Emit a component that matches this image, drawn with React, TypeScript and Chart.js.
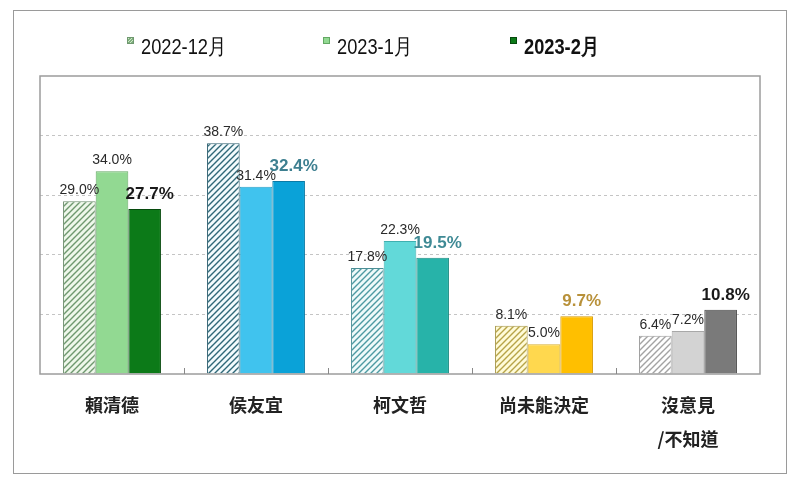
import React, { useEffect, useRef } from "react";
import { Chart, registerables } from "chart.js";

Chart.register(...registerables);

const categories: string[][] = [["賴清德"], ["侯友宜"], ["柯文哲"], ["尚未能決定"], ["沒意見", "/不知道"]];
const seriesLabels = ["2022-12月", "2023-1月", "2023-2月"];
const dec2022 = [29.0, 38.7, 17.8, 8.1, 6.4];
const jan2023 = [34.0, 31.4, 22.3, 5.0, 7.2];
const feb2023 = [27.7, 32.4, 19.5, 9.7, 10.8];
const yMin = 0;
const yMax = 50;
const yStep = 10;

const hatchBg = ["#eef7ea", "#f3fbfd", "#effafa", "#fffbd8", "#ffffff"];
const hatchLine = ["#6f986f", "#2f6878", "#4d9aa2", "#b7a448", "#a3a3a3"];
const decBorder = ["#6f8f6f", "#2f6070", "#4d8f96", "#a8984a", "#9a9a9a"];
const janColors = ["#92d992", "#40c3ee", "#62d9d9", "#ffd84e", "#d3d3d3"];
const janBorder = ["#63a863", "#2aa0c8", "#3fb0b0", "#d8b030", "#a8a8a8"];
const febColors = ["#0c7a18", "#0aa2d8", "#27b3a9", "#ffbf00", "#7a7a7a"];
const febBorder = ["#064a0d", "#0a7aa6", "#1a8a82", "#d89a00", "#4a4a4a"];
const febLabelColors = ["#1a1a1a", "#3d7f90", "#3f8a95", "#b8913a", "#1a1a1a"];

function makeHatch(bg: string, line: string): CanvasPattern | string {
  const c = document.createElement("canvas");
  const s = 6;
  c.width = s;
  c.height = s;
  const g = c.getContext("2d");
  if (!g) return bg;
  g.fillStyle = bg;
  g.fillRect(0, 0, s, s);
  g.strokeStyle = line;
  g.lineWidth = 1.4;
  g.beginPath();
  g.moveTo(0, s);
  g.lineTo(s, 0);
  g.moveTo(-1, 1);
  g.lineTo(1, -1);
  g.moveTo(s - 1, s + 1);
  g.lineTo(s + 1, s - 1);
  g.stroke();
  const p = g.createPattern(c, "repeat");
  return p || bg;
}

const framePlugin = {
  id: "frameAndTicks",
  afterDraw(chart: any) {
    const { ctx, chartArea, scales } = chart;
    const xs = scales.x;
    ctx.save();
    ctx.strokeStyle = "#9c9c9c";
    ctx.lineWidth = 1.5;
    ctx.strokeRect(chartArea.left, chartArea.top, chartArea.right - chartArea.left, chartArea.bottom - chartArea.top);
    ctx.strokeStyle = "#888";
    ctx.lineWidth = 1;
    for (let i = 1; i < categories.length; i++) {
      const x = Math.round((xs.getPixelForValue(i - 1) + xs.getPixelForValue(i)) / 2) + 0.5;
      ctx.beginPath();
      ctx.moveTo(x, chartArea.bottom - 6);
      ctx.lineTo(x, chartArea.bottom);
      ctx.stroke();
    }
    ctx.restore();
  },
};

const labelPlugin = {
  id: "valueLabels",
  afterDatasetsDraw(chart: any) {
    const { ctx } = chart;
    ctx.save();
    ctx.textAlign = "center";
    ctx.textBaseline = "alphabetic";
    chart.data.datasets.forEach((ds: any, di: number) => {
      const meta = chart.getDatasetMeta(di);
      meta.data.forEach((el: any, i: number) => {
        const v = ds.data[i] as number;
        const bold = di === 2;
        ctx.font = bold ? "bold 17px 'Liberation Sans', Arial, sans-serif" : "14px 'Liberation Sans', Arial, sans-serif";
        ctx.fillStyle = bold ? febLabelColors[i] : "#2a2a2a";
        ctx.fillText(v.toFixed(1) + "%", el.x + (bold ? 5 : 0), el.y - (bold ? 10 : 7));
      });
    });
    ctx.restore();
  },
};

function ChartView() {
  const ref = useRef<HTMLCanvasElement | null>(null);
  useEffect(() => {
    if (!ref.current) return;
    const decFill = hatchBg.map((b, i) => makeHatch(b, hatchLine[i]));
    const chart = new Chart(ref.current, {
      type: "bar",
      data: {
        labels: categories,
        datasets: [
          { label: seriesLabels[0], data: dec2022, backgroundColor: decFill as any, borderColor: decBorder, borderWidth: 1 },
          { label: seriesLabels[1], data: jan2023, backgroundColor: janColors, borderColor: janBorder, borderWidth: 1 },
          { label: seriesLabels[2], data: feb2023, backgroundColor: febColors, borderColor: febBorder, borderWidth: 1 },
        ],
      },
      options: {
        responsive: false,
        animation: false,
        events: [],
        layout: { padding: { left: 40, right: 43, top: 76, bottom: 0 } },
        plugins: { legend: { display: false }, tooltip: { enabled: false } },
        datasets: { bar: { categoryPercentage: 0.68, barPercentage: 1 } },
        scales: {
          x: {
            grid: { display: false, drawTicks: false },
            border: { display: false },
            ticks: {
              autoSkip: false,
              maxRotation: 0,
              padding: 14,
              color: "#222",
              font: { family: "'Noto Sans CJK TC', 'Noto Sans CJK SC', sans-serif", size: 18, weight: "bold", lineHeight: 1.9 },
            },
            afterFit: (scale: any) => {
              scale.height = 121;
            },
          },
          y: {
            min: yMin,
            max: yMax,
            ticks: { display: false, stepSize: yStep },
            grid: {
              drawTicks: false,
              lineWidth: 1,
              color: (c: any) => (c.tick && (c.tick.value === yMin || c.tick.value === yMax) ? "rgba(0,0,0,0)" : "#c4c4c4"),
            },
            border: { display: false, dash: [3, 3] },
          },
        },
      },
      plugins: [framePlugin, labelPlugin],
    });
    return () => chart.destroy();
  }, []);
  return <canvas ref={ref} width={803} height={495} style={{ position: "absolute", left: 0, top: 0, width: 803, height: 495 }} />;
}

const legendFont = "'Liberation Sans', Arial, sans-serif";
const legendLefts = [127, 323, 510];

function LegendBox({ i }: { i: number }) {
  const styles: React.CSSProperties[] = [
    {
      background: "repeating-linear-gradient(135deg, #cde9c4 0px, #cde9c4 1.2px, #7fae7f 1.2px, #7fae7f 2.2px)",
      border: "1px solid #6f986f",
    },
    { background: janColors[0], border: "1px solid " + janBorder[0] },
    { background: febColors[0], border: "1px solid " + febBorder[0] },
  ];
  return <div style={{ position: "absolute", left: 0, top: 2, width: 7, height: 7, boxSizing: "border-box", ...styles[i] }} />;
}

export default function App() {
  return (
    <div style={{ position: "absolute", left: 0, top: 0, width: 803, height: 495, background: "#fff", overflow: "hidden" }}>
      <div
        style={{
          position: "absolute",
          left: 13,
          top: 10,
          width: 774,
          height: 464,
          border: "1.5px solid #9a9a9a",
          boxSizing: "border-box",
        }}
      />
      <ChartView />
      {seriesLabels.map((s, i) => (
        <div key={s} style={{ position: "absolute", left: legendLefts[i], top: 35, height: 24 }}>
          <LegendBox i={i} />
          <span
            style={{
              position: "absolute",
              left: 14,
              top: 0,
              whiteSpace: "nowrap",
              fontFamily: legendFont,
              fontSize: 22,
              lineHeight: "24px",
              fontWeight: i === 2 ? "bold" : "normal",
              color: "#111",
              transform: "scaleX(0.83)",
              transformOrigin: "0 0",
              display: "inline-block",
            }}
          >
            {s}
          </span>
        </div>
      ))}
    </div>
  );
}
